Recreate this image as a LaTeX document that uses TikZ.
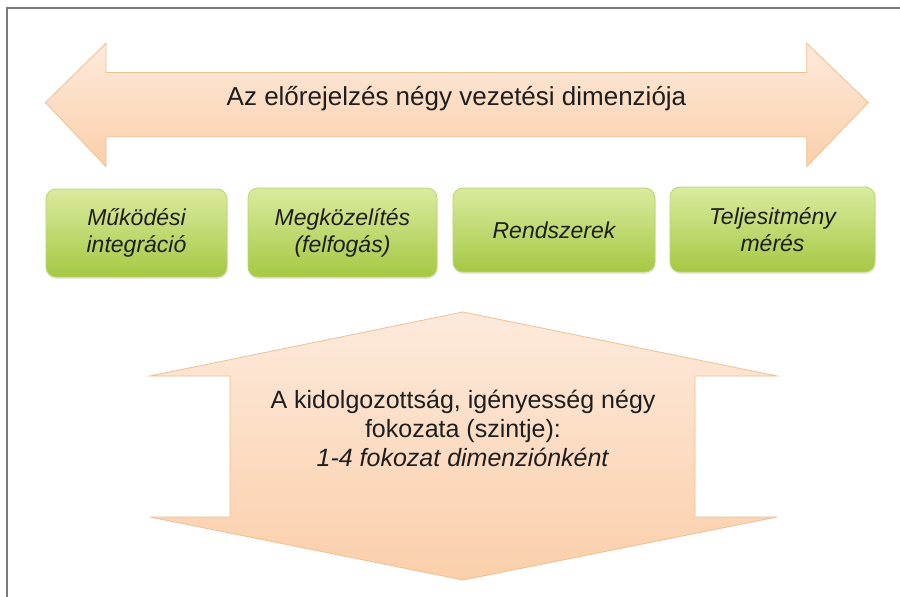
\documentclass[tikz,border=0pt]{standalone}
\usepackage{fontspec}
\setmainfont{Liberation Sans}
\usetikzlibrary{shadows}
\definecolor{peachL}{HTML}{FDEADC}
\definecolor{peachD}{HTML}{FBCFAA}
\definecolor{peachE}{HTML}{EFBF90}
\definecolor{greenL}{HTML}{DAEB9F}
\definecolor{greenD}{HTML}{A5C843}
\definecolor{greenE}{HTML}{B9D46E}
\definecolor{txt}{HTML}{1E1E1E}
\definecolor{framec}{HTML}{7A7A7A}
\tikzset{
  arrowshape/.style={top color=peachL, bottom color=peachD, draw=peachE, line width=0.8pt, line join=miter},
  greenbox/.style={rounded corners=10pt, top color=greenL, bottom color=greenD, draw=greenE, line width=0.8pt,
    drop shadow={opacity=0.18, shadow xshift=0.5pt, shadow yshift=-2pt},
    text=txt, align=center, inner sep=0pt, font=\fontsize{23}{27}\selectfont\itshape},
  titletext/.style={text=txt, inner sep=0pt, font=\fontsize{26}{30}\selectfont},
  bodytext/.style={text=txt, inner sep=0pt, align=center, font=\fontsize{25}{29}\selectfont}
}
\begin{document}
\begin{tikzpicture}[x=1pt,y=-1pt]
\useasboundingbox (0,0) rectangle (900,597);
\fill[white] (0,0) rectangle (900,597);
\draw[framec, line width=1.5pt] (7,597) -- (7,8) -- (900,8);
% top double arrow
\path[arrowshape] (45.5,102.5) -- (106,43.3) -- (106,72.5) -- (806.7,72.5) -- (806.7,43.3) -- (868.3,102.5)
  -- (806.7,166.7) -- (806.7,136.7) -- (106,136.7) -- (106,166.7) -- cycle;
\node[titletext, anchor=base] (title) at (456.5,105) {Az előrejelzés négy vezetési dimenziója};
% green boxes
\node[greenbox, minimum width=181pt, minimum height=88pt] (b1) at (136.5,233) {Működési\\integráció};
\node[greenbox, minimum width=189pt, minimum height=89pt] (b2) at (342.5,232.5) {Megközelítés\\(felfogás)};
\node[greenbox, minimum width=202pt, minimum height=84pt] (b3) at (554,230) {Rendszerek};
\node[greenbox, minimum width=205pt, minimum height=85pt] (b4) at (772.5,229.5) {Teljesitmény\\mérés};
% bottom up-down arrow
\path[arrowshape] (463,312) -- (777,376) -- (695,376) -- (695,517) -- (777,517) -- (463,580)
  -- (150,517) -- (230,517) -- (230,376) -- (150,376) -- cycle;
\node[bodytext] (body) at (463,428) {A kidolgozottság, igényesség négy\\fokozata (szintje):\\\textit{1-4 fokozat dimenziónként}};
\end{tikzpicture}
\end{document}
